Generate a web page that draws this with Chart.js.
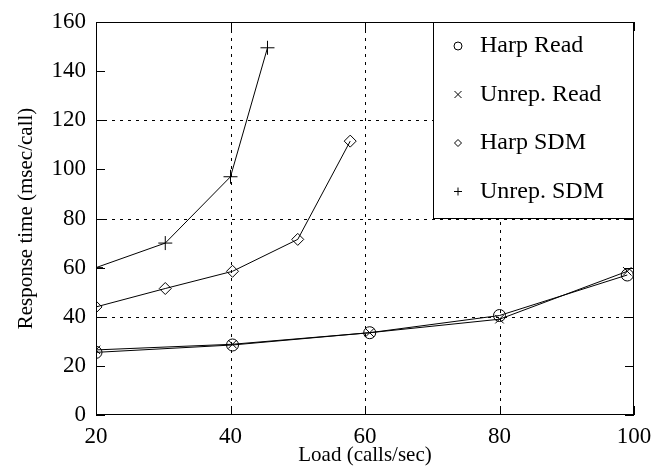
<!DOCTYPE html>
<html>
<head>
<meta charset="utf-8">
<script src="https://cdn.jsdelivr.net/npm/chart.js@4.4.0/dist/chart.umd.min.js"></script>
<style>
  html, body { margin: 0; padding: 0; background: #fff; }
  #wrap { width: 668px; height: 468px; }
</style>
</head>
<body>
<div id="wrap"><canvas id="c"></canvas></div>
<script>
// values
const harpReadX = [20, 40.3, 60.7, 80, 99];
const harpReadY = [25.5, 28.5, 33.5, 40.5, 57];
const unrepReadX = [20, 40.3, 60.7, 80, 99];
const unrepReadY = [26.5, 28.8, 33.5, 39, 58.5];
const harpSdmX = [20, 30.3, 40.3, 50, 57.8];
const harpSdmY = [44, 51.5, 58.5, 71.5, 111.5];
const unrepSdmX = [20, 30.3, 40, 45.5];
const unrepSdmY = [60, 70, 97, 149.5];

const xTicks = [20, 40, 60, 80, 100];
const yTicks = [0, 20, 40, 60, 80, 100, 120, 140, 160];
const xGrid = [40, 60, 80];
const yGrid = [40, 80, 120];

const serif = "'Liberation Serif', 'DejaVu Serif', serif";

function pts(xs, ys) {
  return xs.map((x, i) => ({ x: x, y: ys[i] }));
}

function series(label, xs, ys, style, radius) {
  return {
    label: label,
    data: pts(xs, ys),
    borderColor: '#000',
    borderWidth: 1,
    backgroundColor: 'rgba(0,0,0,0)',
    pointStyle: style,
    pointRadius: radius,
    pointBorderColor: '#000',
    pointBorderWidth: 1,
    pointBackgroundColor: 'rgba(0,0,0,0)',
    tension: 0
  };
}

// dotted grid under the lines
const gridPlugin = {
  id: 'dotgrid',
  beforeDatasetsDraw(chart) {
    const ctx = chart.ctx;
    const a = chart.chartArea;
    const xs = chart.scales.x, ys = chart.scales.y;
    ctx.save();
    ctx.strokeStyle = '#000';
    ctx.lineWidth = 1;
    ctx.setLineDash([3, 5]);
    ctx.beginPath();
    xGrid.forEach(v => {
      const x = Math.round(xs.getPixelForValue(v)) + 0.5;
      ctx.moveTo(x, a.top); ctx.lineTo(x, a.bottom);
    });
    yGrid.forEach(v => {
      const y = Math.round(ys.getPixelForValue(v)) + 0.5;
      ctx.moveTo(a.left, y); ctx.lineTo(a.right, y);
    });
    ctx.stroke();
    ctx.restore();
  }
};

// frame, inward tick marks and the boxed legend
const framePlugin = {
  id: 'frame',
  afterDraw(chart) {
    const ctx = chart.ctx;
    const a = chart.chartArea;
    const xs = chart.scales.x, ys = chart.scales.y;
    ctx.save();
    ctx.strokeStyle = '#000';
    ctx.lineWidth = 1;
    ctx.setLineDash([]);
    ctx.strokeRect(a.left + 0.5, a.top + 0.5, a.right - a.left - 1, a.bottom - a.top - 1);
    ctx.beginPath();
    yTicks.forEach(v => {
      const y = Math.round(ys.getPixelForValue(v)) + 0.5;
      ctx.moveTo(a.left, y); ctx.lineTo(a.left + 9, y);
      ctx.moveTo(a.right, y); ctx.lineTo(a.right - 9, y);
    });
    xTicks.forEach(v => {
      const x = Math.round(xs.getPixelForValue(v)) + 0.5;
      ctx.moveTo(x, a.bottom); ctx.lineTo(x, a.bottom - 9);
      ctx.moveTo(x, a.top); ctx.lineTo(x, a.top + 9);
    });
    ctx.stroke();

    // legend box
    const bx = 433, by = a.top, bw = a.right - 433, bh = Math.round(ys.getPixelForValue(80)) - a.top;
    ctx.fillStyle = '#fff';
    ctx.fillRect(bx, by, bw, bh);
    ctx.strokeRect(bx + 0.5, by + 0.5, bw - 1, bh - 1);
    ctx.font = '24px ' + serif;
    ctx.fillStyle = '#000';
    ctx.textBaseline = 'middle';
    chart.data.datasets.forEach((ds, i) => {
      const cy = by + 24 + i * 48.5;
      const mx = 458;
      ctx.beginPath();
      const r = 3.5;
      if (ds.pointStyle === 'circle') {
        ctx.arc(mx, cy, r + 0.5, 0, Math.PI * 2);
      } else if (ds.pointStyle === 'crossRot') {
        ctx.moveTo(mx - r, cy - r); ctx.lineTo(mx + r, cy + r);
        ctx.moveTo(mx + r, cy - r); ctx.lineTo(mx - r, cy + r);
      } else if (ds.pointStyle === 'rectRot') {
        ctx.moveTo(mx, cy - r); ctx.lineTo(mx + r, cy); ctx.lineTo(mx, cy + r); ctx.lineTo(mx - r, cy); ctx.closePath();
      } else {
        ctx.moveTo(mx - r - 0.5, cy); ctx.lineTo(mx + r + 0.5, cy);
        ctx.moveTo(mx, cy - r - 0.5); ctx.lineTo(mx, cy + r + 0.5);
      }
      ctx.stroke();
      ctx.fillText(ds.label, 480, cy);
    });
    ctx.restore();
  }
};

new Chart(document.getElementById('c'), {
  type: 'line',
  data: {
    datasets: [
      series('Harp Read', harpReadX, harpReadY, 'circle', 6),
      series('Unrep. Read', unrepReadX, unrepReadY, 'crossRot', 6),
      series('Harp SDM', harpSdmX, harpSdmY, 'rectRot', 6),
      series('Unrep. SDM', unrepSdmX, unrepSdmY, 'cross', 7)
    ]
  },
  options: {
    responsive: true,
    maintainAspectRatio: false,
    animation: false,
    layout: { padding: { left: 14, right: 34, top: 22, bottom: 0 } },
    plugins: { legend: { display: false }, tooltip: { enabled: false } },
    scales: {
      x: {
        type: 'linear',
        min: 20, max: 100,
        afterBuildTicks: s => { s.ticks = xTicks.map(v => ({ value: v })); },
        afterFit: s => { s.height = 53; },
        grid: { display: false },
        border: { display: false },
        ticks: { color: '#000', font: { family: serif, size: 23 }, padding: 0, maxRotation: 0 },
        title: { display: true, text: 'Load (calls/sec)', color: '#000', font: { family: serif, size: 21 }, padding: { top: 0, bottom: 0 } }
      },
      y: {
        type: 'linear',
        min: 0, max: 160,
        afterBuildTicks: s => { s.ticks = yTicks.map(v => ({ value: v })); },
        afterFit: s => { s.width = 82; },
        grid: { display: false },
        border: { display: false },
        ticks: { color: '#000', font: { family: serif, size: 23 }, padding: 2 },
        title: { display: true, text: 'Response time (msec/call)', color: '#000', font: { family: serif, size: 21 }, padding: { top: 0, bottom: 2 } }
      }
    }
  },
  plugins: [gridPlugin, framePlugin]
});
</script>
</body>
</html>
